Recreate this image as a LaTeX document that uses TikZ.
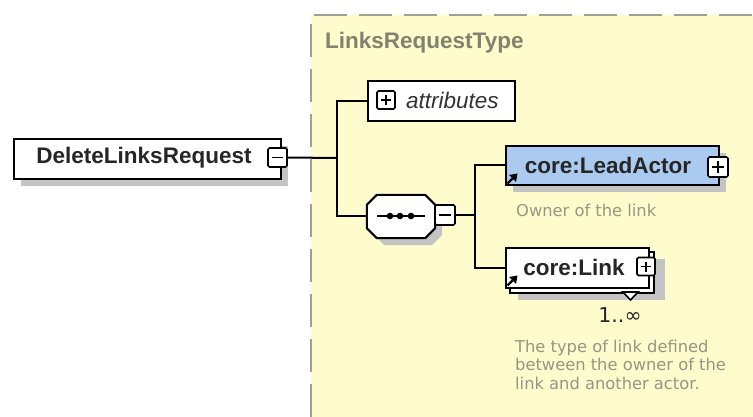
\documentclass[tikz,border=0pt]{standalone}
\usepackage{fontspec}
\setmainfont{Liberation Sans}
\newfontfamily\descfont{DejaVu Sans}
\usetikzlibrary{arrows.meta,shadows}
\definecolor{yellowbg}{RGB}{254,252,204}
\definecolor{dashgray}{RGB}{160,160,150}
\definecolor{shadowgray}{RGB}{196,196,196}
\definecolor{leadblue}{RGB}{170,202,240}
\definecolor{descgray}{RGB}{150,150,130}
\definecolor{typegray}{RGB}{130,130,110}
\tikzset{
 box/.style={draw=black, line width=2pt, fill=white, inner sep=0pt, anchor=north west},
 shadowed/.style={drop shadow={shadow xshift=7pt, shadow yshift=-7pt, fill=shadowgray, opacity=1}},
 icon/.style={draw=black, line width=1.6pt, fill=white, minimum size=19pt, inner sep=0pt, rounded corners=1.5pt},
 plusicon/.style={icon, path picture={\draw[line width=1.7pt]
   ([xshift=4pt]path picture bounding box.west) -- ([xshift=-4pt]path picture bounding box.east)
   ([yshift=-4pt]path picture bounding box.north) -- ([yshift=4pt]path picture bounding box.south);}},
 minusicon/.style={icon, path picture={\draw[line width=1.7pt]
   ([xshift=4pt]path picture bounding box.west) -- ([xshift=-4pt]path picture bounding box.east);}},
 conn/.style={line width=2pt, black},
 lbl/.style={font=\fontsize{22.5}{26}\selectfont\bfseries, text=black!85, inner sep=0pt},
 desc/.style={font=\descfont\fontsize{16.3}{18.3}\selectfont, text=descgray, align=left, inner sep=0pt},
 refshaft/.style={line width=2.4pt},
 refhead/.style={fill=black}
}
\begin{document}
\begin{tikzpicture}[x=1pt,y=-1pt]
\useasboundingbox (0,0) rectangle (753,417);
\fill[white] (0,0) rectangle (753,417);
% complex type region
\fill[yellowbg] (311,15) rectangle (753,417);
\draw[dashgray, line width=1.8pt, dash pattern=on 33pt off 12pt] (311,417) -- (311,15) -- (753,15);
\node[anchor=west, font=\fontsize{22.5}{26}\selectfont\bfseries, text=typegray, inner sep=0pt] (typename) at (325,43) {LinksRequestType};

% root element
\node[box, shadowed, minimum width=267pt, minimum height=40pt] (root) at (13,138) {};
\node[lbl] (rootlbl) at (144,158) {DeleteLinksRequest};
\node[minusicon] (rootminus) at (277.5,157.5) {};

% attributes
\node[box, minimum width=147pt, minimum height=40pt] (attr) at (367,80) {};
\node[plusicon, minimum size=18pt] (attrplus) at (386,100) {};
\node[anchor=west, inner sep=0pt, font=\fontsize{22.5}{26}\selectfont\itshape, text=black!80] (attrlbl) at (406,100) {attributes};

% sequence compositor
\node[inner sep=0pt, minimum width=68pt, minimum height=43pt] (seq) at (401,216.5) {};
\fill[shadowgray, shift={(7,7)}] (367,205) -- (377,195) -- (425,195) -- (435,205) -- (435,228) -- (425,238) -- (377,238) -- (367,228) -- cycle;
\draw[line width=2pt, fill=white] ([yshift=-10pt]seq.north west) -- ([xshift=10pt]seq.north west) -- ([xshift=-10pt]seq.north east) -- ([yshift=-10pt]seq.north east) -- ([yshift=10pt]seq.south east) -- ([xshift=-10pt]seq.south east) -- ([xshift=10pt]seq.south west) -- ([yshift=10pt]seq.south west) -- cycle;
\coordinate (seqa) at (377,216);
\coordinate (seqb) at (425,216);
\draw[line width=1.7pt] (seqa) -- (seqb);
\foreach \xx in {390,400,411} \fill (\xx,216) circle (3.3pt);
\node[minusicon, minimum size=20pt] (seqminus) at (445,215) {};

% LeadActor
\node[box, shadowed, fill=leadblue, minimum width=213pt, minimum height=39pt] (lead) at (505,145) {};
\node[lbl] (leadlbl) at (608,165) {core:LeadActor};
\node[plusicon, minimum size=20pt] (leadplus) at (718,167) {};
\draw[refshaft] (507.5,183.5) -- (512.5,178.5);
\fill[refhead] (517.5,173.5) -- (509,175) -- (516,182) -- cycle;
\node[desc, anchor=base west] (leaddesc) at (516,217) {Owner of the link};

% Link (multiple occurrences)
\fill[shadowgray] (518,259) rectangle (665,300);
\node[box, minimum width=144pt, minimum height=41pt] (linkback) at (509,251) {};
\node[box, minimum width=143pt, minimum height=40pt] (link) at (505,247) {};
\node[lbl] (linklbl) at (574,267) {core:Link};
\node[plusicon, minimum size=18pt] (linkplus) at (646,266.5) {};
\draw[refshaft] (507.5,285.5) -- (512.5,280.5);
\fill[refhead] (517.5,275.5) -- (509,277) -- (516,284) -- cycle;
\draw[line width=1.6pt, fill=white] (623,292) -- (638,292) -- (630.5,300) -- cycle;
\node[inner sep=0pt, font=\descfont\fontsize{20.5}{24}\selectfont, text=black!85] (linkocc) at (620,315) {1..∞};
\node[desc, anchor=base west] (linkdesc) at (515,389) {The type of link defined\\between the owner of the\\link and another actor.};

% connectors
\coordinate (j1) at (337,158);
\coordinate (j2) at (475,215);
\draw[conn] (rootminus.east) -- (j1);
\draw[conn] (j1) |- (attr.west);
\draw[conn] (j1) |- (seq.west);
\draw[conn] (seqminus.east) -- (j2);
\draw[conn] (j2) |- (lead.west);
\draw[conn] (j2) |- (link.west);
\end{tikzpicture}
\end{document}
